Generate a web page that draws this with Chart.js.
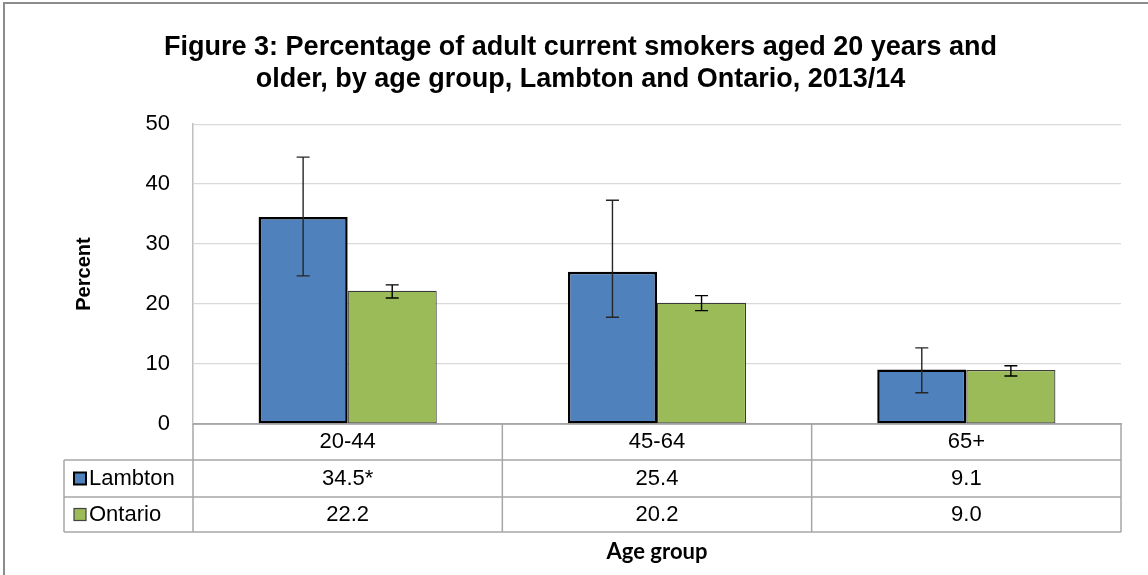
<!DOCTYPE html>
<html>
<head>
<meta charset="utf-8">
<title>Figure 3</title>
<script src="https://cdn.jsdelivr.net/npm/chart.js@4.4.1/dist/chart.umd.min.js"></script>
<style>
  html, body { margin: 0; padding: 0; background: #fff; }
  #wrap { width: 1148px; height: 575px; }
</style>
</head>
<body>
<div id="wrap"><canvas id="chart" width="1148" height="575"></canvas></div>
<script>
// data
const ageGroups = ['20-44', '45-64', '65+'];
const lambton = [34.5, 25.4, 9.1];
const lambtonNote = ['*', '', ''];
const lambtonLow = [24.7, 17.8, 5.2];
const lambtonHigh = [44.5, 37.3, 12.7];
const ontario = [22.2, 20.2, 9.0];
const ontarioNote = ['', '', ''];
const ontarioLow = [21.0, 18.9, 8.0];
const ontarioHigh = [23.2, 21.4, 9.7];
const yTicks = [0, 10, 20, 30, 40, 50];

const BLUE = '#4F81BD';
const GREEN = '#9BBB59';
const ARIAL = '"Liberation Sans", Arial, sans-serif';

// white page + grey frame on top and left
const frame = {
  id: 'frame',
  beforeDraw(chart) {
    const { ctx, width, height } = chart;
    ctx.save();
    ctx.fillStyle = '#fff';
    ctx.fillRect(0, 0, width, height);
    ctx.restore();
  },
  afterDraw(chart) {
    const { ctx, width, height } = chart;
    ctx.save();
    ctx.strokeStyle = '#8C8C8C';
    ctx.lineWidth = 2;
    ctx.beginPath();
    ctx.moveTo(4, height);
    ctx.lineTo(4, 3);
    ctx.lineTo(width, 3);
    ctx.stroke();
    ctx.restore();
  }
};

// confidence interval whiskers
const errorBars = {
  id: 'errorBars',
  afterDatasetsDraw(chart) {
    const { ctx } = chart;
    const y = chart.scales.y;
    chart.data.datasets.forEach((ds, di) => {
      const meta = chart.getDatasetMeta(di);
      meta.data.forEach((bar, i) => {
        const top = y.getPixelForValue(ds.errHigh[i]);
        const bot = y.getPixelForValue(ds.errLow[i]);
        const cap = 6.5;
        ctx.save();
        ctx.strokeStyle = ds.errColor;
        ctx.lineWidth = 1.4;
        ctx.beginPath();
        ctx.moveTo(bar.x, top); ctx.lineTo(bar.x, bot);
        ctx.moveTo(bar.x - cap, top); ctx.lineTo(bar.x + cap, top);
        ctx.moveTo(bar.x - cap, bot); ctx.lineTo(bar.x + cap, bot);
        ctx.stroke();
        ctx.restore();
      });
    });
  }
};

// Excel style data table under the x axis
const dataTable = {
  id: 'dataTable',
  afterDraw(chart) {
    const { ctx, chartArea: a } = chart;
    const x = chart.scales.x;
    const colW = (a.right - a.left) / ageGroups.length;
    const rows = [a.bottom, a.bottom + 36, a.bottom + 73, a.bottom + 108];
    const tableLeft = 64;

    ctx.save();
    ctx.strokeStyle = '#A6A6A6';
    ctx.lineWidth = 1.5;
    ctx.beginPath();
    // horizontal rules
    ctx.moveTo(a.left, rows[0]); ctx.lineTo(a.right, rows[0]);
    for (let r = 1; r < rows.length; r++) {
      ctx.moveTo(tableLeft, rows[r]); ctx.lineTo(a.right, rows[r]);
    }
    // vertical rules
    ctx.moveTo(tableLeft, rows[1]); ctx.lineTo(tableLeft, rows[3]);
    for (let c = 0; c <= ageGroups.length; c++) {
      const cx = a.left + c * colW;
      ctx.moveTo(cx, rows[0]); ctx.lineTo(cx, rows[3]);
    }
    ctx.stroke();

    ctx.fillStyle = '#000';
    ctx.font = '22px ' + ARIAL;
    ctx.textAlign = 'center';
    ctx.textBaseline = 'middle';
    ageGroups.forEach((g, i) => {
      const cx = x.getPixelForValue(i);
      ctx.fillText(g, cx, (rows[0] + rows[1]) / 2);
      ctx.fillText(lambton[i].toFixed(1) + lambtonNote[i], cx, (rows[1] + rows[2]) / 2);
      ctx.fillText(ontario[i].toFixed(1) + ontarioNote[i], cx, (rows[2] + rows[3]) / 2);
    });

    // legend keys
    const keys = [
      { label: 'Lambton', fill: BLUE, stroke: '#000', w: 2, mid: (rows[1] + rows[2]) / 2 },
      { label: 'Ontario', fill: GREEN, stroke: '#404040', w: 1.2, mid: (rows[2] + rows[3]) / 2 }
    ];
    keys.forEach(k => {
      ctx.fillStyle = k.fill;
      ctx.fillRect(74, k.mid - 6, 12, 12);
      ctx.strokeStyle = k.stroke;
      ctx.lineWidth = k.w;
      ctx.strokeRect(74, k.mid - 6, 12, 12);
      ctx.fillStyle = '#000';
      ctx.textAlign = 'left';
      ctx.fillText(k.label, 89, k.mid);
    });
    ctx.restore();
  }
};

new Chart(document.getElementById('chart'), {
  type: 'bar',
  data: {
    labels: ageGroups,
    datasets: [{
      label: 'Lambton',
      data: lambton,
      errLow: lambtonLow,
      errHigh: lambtonHigh,
      errColor: '#262626',
      backgroundColor: BLUE,
      borderColor: '#000',
      borderWidth: 2.5,
      borderSkipped: false
    }, {
      label: 'Ontario',
      data: ontario,
      errLow: ontarioLow,
      errHigh: ontarioHigh,
      errColor: '#000',
      backgroundColor: GREEN,
      borderColor: '#3a3a3a',
      borderWidth: 1.2,
      borderSkipped: false
    }]
  },
  options: {
    responsive: false,
    animation: false,
    categoryPercentage: 0.576,
    barPercentage: 1.0,
    layout: { padding: { left: 40, right: 27, top: 0, bottom: 10 } },
    plugins: {
      legend: { display: false },
      tooltip: { enabled: false },
      title: {
        display: true,
        text: ['Figure 3: Percentage of adult current smokers aged 20 years and',
               'older, by age group, Lambton and Ontario, 2013/14'],
        color: '#000',
        font: { family: ARIAL, size: 27, weight: 'bold', lineHeight: 1.15 },
        padding: { top: 32.5, bottom: 29.5 }
      }
    },
    scales: {
      x: {
        offset: true,
        grid: { display: false, drawTicks: false, tickLength: 0 },
        border: { display: true, color: '#A6A6A6', width: 1.5 },
        ticks: { display: false },
        title: {
          display: true,
          text: 'Age group',
          color: '#000',
          font: { family: 'Lato, "Noto Sans", sans-serif', size: 22, weight: 'bold', lineHeight: 1.2 },
          padding: { top: 114.6, bottom: 0 }
        }
      },
      y: {
        min: 0,
        max: 50,
        afterBuildTicks: s => { s.ticks = yTicks.map(v => ({ value: v })); },
        afterFit: s => { s.width = 153; },
        grid: { color: '#D9D9D9', lineWidth: 1.2, drawTicks: false, tickLength: 0 },
        border: { display: true, color: '#BFBFBF', width: 1.5 },
        ticks: {
          color: '#000',
          padding: 23,
          font: { family: ARIAL, size: 22 }
        },
        title: {
          display: true,
          text: 'Percent',
          color: '#000',
          font: { family: ARIAL, size: 20, weight: 'bold', lineHeight: 1.2 },
          padding: { top: 32, bottom: 0 }
        }
      }
    }
  },
  plugins: [frame, errorBars, dataTable]
});
</script>
</body>
</html>
